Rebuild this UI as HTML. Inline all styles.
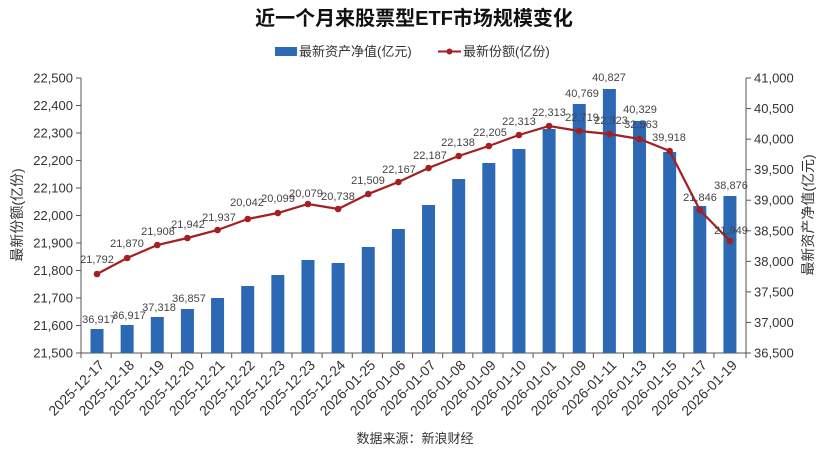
<!DOCTYPE html>
<html><head><meta charset="utf-8"><style>
html,body{margin:0;padding:0;background:#fff;}
svg{display:block;font-family:"Liberation Sans","Noto Sans CJK SC",sans-serif;}
</style></head><body>
<svg width="830" height="452" viewBox="0 0 830 452" xmlns="http://www.w3.org/2000/svg">
<rect width="830" height="452" fill="#fff"/>
<text x="414" y="25" text-anchor="middle" font-size="20" font-weight="bold" fill="#111">近一个月来股票型ETF市场规模变化</text>
<rect x="275" y="47" width="22" height="9" fill="#2e6bb5"/>
<text x="299" y="56" font-size="13" fill="#333">最新资产净值(亿元)</text>
<line x1="438" y1="51.5" x2="461" y2="51.5" stroke="#a31f22" stroke-width="2"/>
<circle cx="449.5" cy="51.5" r="3" fill="#a31f22"/>
<text x="463" y="56" font-size="13" fill="#333">最新份额(亿份)</text>
<g stroke="#555" stroke-width="1" fill="none">
<line x1="81" y1="78" x2="81" y2="353"/>
<line x1="746" y1="78" x2="746" y2="353"/>
<line x1="81" y1="353" x2="746" y2="353"/>
</g>
<g id="ticks" stroke="#555" stroke-width="1"></g>
<g id="bars" fill="#2c68b3"></g>
<g id="lbl" fill="#333"></g>
<polyline id="line" fill="none" stroke="#a31f22" stroke-width="2.2" points=""/>
<g id="dots" fill="#a31f22"></g>
<g id="dl" font-size="11" fill="#444" text-anchor="middle"></g>
<text transform="translate(22,215) rotate(-90)" text-anchor="middle" font-size="14" fill="#333">最新份额(亿份)</text>
<text transform="translate(813,215) rotate(-90)" text-anchor="middle" font-size="14" fill="#333">最新资产净值(亿元)</text>
<text x="415" y="443" text-anchor="middle" font-size="13" fill="#333">数据来源：新浪财经</text>
</svg>
<script>
var NS="http://www.w3.org/2000/svg";
function el(p,t,a,txt){var e=document.createElementNS(NS,t);for(var k in a)e.setAttribute(k,a[k]);if(txt!=null)e.textContent=txt;document.getElementById(p).appendChild(e);return e;}
var x0=97,st=30.14;
var bt=[329,325,317,309,298,286,275,260,263,247,229,205,179,163,149,129,104,89,121,152,206,196];
var lp=[274,258,245,238,230,219,213,204,209,194,182,168,156,146,135,126,131,134,139,151,210,241];
var dates=["2025-12-17","2025-12-18","2025-12-19","2025-12-20","2025-12-21","2025-12-22","2025-12-23","2025-12-23","2025-12-24","2026-01-25","2026-01-06","2026-01-07","2026-01-08","2026-01-09","2026-01-10","2026-01-01","2026-01-09","2026-01-11","2026-01-13","2026-01-15","2026-01-17","2026-01-19"];
var pts=[];
for(var i=0;i<22;i++){var cx=x0+i*st;
 el("bars","rect",{x:cx-6.5,y:bt[i],width:13,height:353-bt[i]});
 pts.push(cx+","+lp[i]);
 el("ticks","line",{x1:81+i*st,y1:353,x2:81+i*st,y2:358});
 el("lbl","text",{transform:"translate("+(cx+8)+",366) rotate(-45)","text-anchor":"end","font-size":"14"},dates[i]);
}
el("ticks","line",{x1:746,y1:353,x2:746,y2:358});
document.getElementById("line").setAttribute("points",pts.join(" "));
for(var i=0;i<22;i++){el("dots","circle",{cx:x0+i*st,cy:lp[i],r:3.3});}
for(var j=0;j<=10;j++){var y=353-j*27.5;
 el("ticks","line",{x1:76,y1:y,x2:81,y2:y});
 el("lbl","text",{x:73,y:y+4.5,"text-anchor":"end","font-size":"13"},(21500+j*100).toLocaleString("en-US"));
 if(j<=9){var yr=353-j*(275/9);el("ticks","line",{x1:746,y1:yr,x2:751,y2:yr});
 el("lbl","text",{x:754,y:yr+4.5,"text-anchor":"start","font-size":"13"},(36500+j*500).toLocaleString("en-US"));}
}
var L=[["36,917",99,323],["36,917",129,319],["37,318",159,311],["36,857",189,302],
["21,792",97,263],["21,870",127,247],["21,908",158,235],["21,942",188,228],["21,937",219,221],["20,042",247,206],["20,099",278,202],["20,079",306,197],["20,738",338,200],["21,509",368,184],["22,167",399,173],["22,187",430,159],["22,138",458,146],["22,205",490,136],["22,313",519,125],["22,313",549,116],["22,719",582,121],["22,323",611,124],["32,563",641,128],["40,769",582,97],["40,827",609,81],["40,329",640,113],["39,918",669,141],["38,876",731,189],["21,846",700,201],["21,949",731,234]];
L.forEach(function(a){el("dl","text",{x:a[1],y:a[2]},a[0]);});
</script>
</body></html>
